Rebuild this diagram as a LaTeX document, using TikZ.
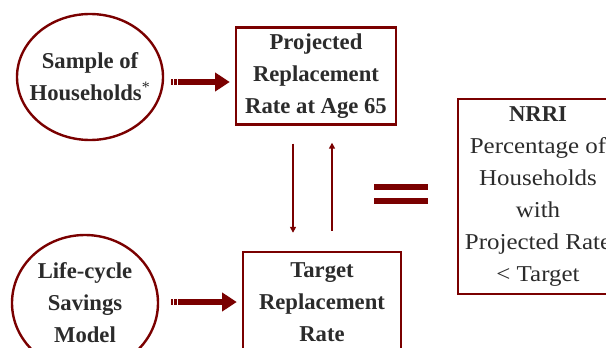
\documentclass[tikz,border=0pt]{standalone}
\usepackage{fontspec}
\setmainfont{Liberation Serif}
\newfontfamily\widefont[FakeStretch=1.1]{Liberation Serif}
\usepackage{xcolor}
\usepackage{tikz}
\usetikzlibrary{arrows.meta, positioning, calc, shapes.geometric}
\definecolor{thememaroon}{RGB}{122, 0, 0}
\definecolor{themetext}{RGB}{43, 43, 43}

\begin{document}
\begin{tikzpicture}[x=0.75pt, y=0.75pt, >=Stealth,
    txt/.style={text=themetext, align=center, font=\fontsize{17}{24}\selectfont},
    oval/.style={txt, ellipse, draw=thememaroon, line width=1.8pt, inner sep=0pt, font=\bfseries\fontsize{17}{24}\selectfont},
    panel/.style={txt, rectangle, draw=thememaroon, line width=1.8pt, inner sep=0pt},
    fatarrow/.style={draw=thememaroon, line width=4.5pt, dash pattern=on 1.6pt off 0.8pt on 1.6pt off 0.8pt on 60pt,
        -{Triangle[length=11pt, width=13.5pt]}},
    thinarrow/.style={draw=thememaroon, line width=1.3pt, -{Triangle[length=4.5pt, width=4.5pt]}}]
    \clip (0,0) rectangle (606,347);
    \node[oval, inner xsep=-7pt, minimum width=109.5pt, minimum height=94.5pt] (sample) at (90,270) {Sample of\\Households\textsuperscript{\mdseries *}};
    \node[oval, minimum width=109.5pt, minimum height=102pt] (life) at (85,44) {Life-cycle\\Savings\\Model};
    \node[panel, font=\bfseries\fontsize{17}{24}\selectfont, minimum width=120pt, minimum height=72.75pt] (proj) at (316,271) {Projected\\Replacement\\Rate at Age 65};
    \node[panel, font=\bfseries\fontsize{17}{24}\selectfont, minimum width=118.5pt, minimum height=75pt] (target) at (322,45) {Target\\Replacement\\Rate};
    \node[panel, minimum width=120pt, minimum height=146.25pt] (nrri) at (538,150.5) {\textbf{NRRI}\\\widefont Percentage of\\\widefont Households\\\widefont with\\\widefont Projected Rate\\\widefont {<} Target};
    % inputs
    \draw[fatarrow, shorten <=5.25pt, shorten >=3.75pt] ([yshift=-3.75pt]sample.east) -- ([yshift=-3.75pt]sample.east -| proj.west);
    \draw[fatarrow, shorten <=9pt, shorten >=3.75pt] (life.east |- target.west) -- (target.west);
    % comparison
    \coordinate (dntop) at ([xshift=-17.25pt]proj.south);
    \coordinate (uptop) at ([xshift=12pt]proj.south);
    \draw[thinarrow, shorten <=13.5pt, shorten >=13.5pt] (dntop) -- (dntop |- target.north);
    \draw[thinarrow, shorten <=15pt, shorten >=12.75pt] (uptop |- target.north) -- (uptop);
    % equals sign
    \draw[thememaroon, line width=4.5pt] (374,160) -- (428,160);
    \draw[thememaroon, line width=4.5pt] (374,146) -- (428,146);
\end{tikzpicture}
\end{document}
